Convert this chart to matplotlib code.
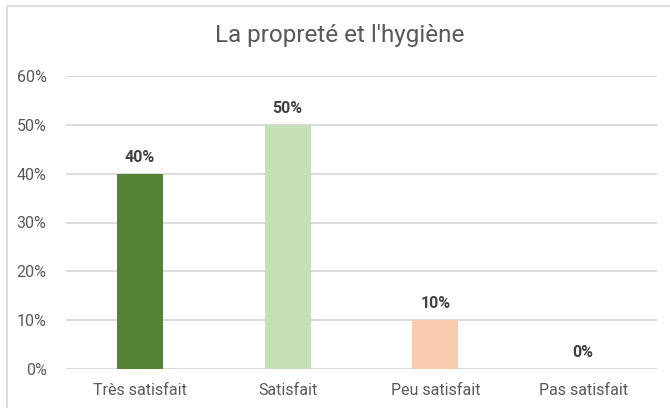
import matplotlib.pyplot as plt
from matplotlib.patches import Rectangle

categories = ["Très satisfait", "Satisfait", "Peu satisfait", "Pas satisfait"]
values = [40, 50, 10, 0]
colors = ["#548235", "#C5E0B4", "#F8CBAD", "#D9D9D9"]
yticks = [0, 10, 20, 30, 40, 50, 60]

plt.rcParams['font.family'] = ['Roboto', 'DejaVu Sans']

fig = plt.figure(figsize=(6.7, 4.08), dpi=100)
W, H = 670, 408
ax = fig.add_axes([66 / W, (H - 369) / H, (657 - 66) / W, (369 - 76) / H])

# outer chart frame, cut off at right/bottom like the screenshot
fig.patches.append(Rectangle((7 / W, -0.05), 1.1, 1 - 6 / H + 0.05, transform=fig.transFigure,
                             fill=False, edgecolor="#D9D9D9", linewidth=1.2))

x = list(range(len(categories)))
ax.bar(x, values, width=0.31, color=colors, zorder=3)
for xi, v in zip(x, values):
    ax.text(xi, v + 3.4, f"{v}%", ha="center", va="center", fontsize=11.5,
            fontweight="bold", color="#404040")

ax.set_xlim(-0.5, 3.5)
ax.set_ylim(0, 60)
ax.set_yticks(yticks)
ax.set_yticklabels([f"{t}%" for t in yticks])
ax.set_xticks(x)
ax.set_xticklabels(categories)
ax.tick_params(axis="both", length=0, labelsize=11.5, labelcolor="#595959")
ax.tick_params(axis="y", pad=14)
ax.tick_params(axis="x", pad=10)
ax.grid(axis="y", color="#D9D9D9", linewidth=1.3, zorder=0)
for s in ax.spines.values():
    s.set_visible(False)

fig.text(340 / W, 1 - 42 / H, "La propreté et l'hygiène", ha="center", va="baseline",
         fontsize=17.5, color="#595959")

fig.savefig("out.png", dpi=100)
